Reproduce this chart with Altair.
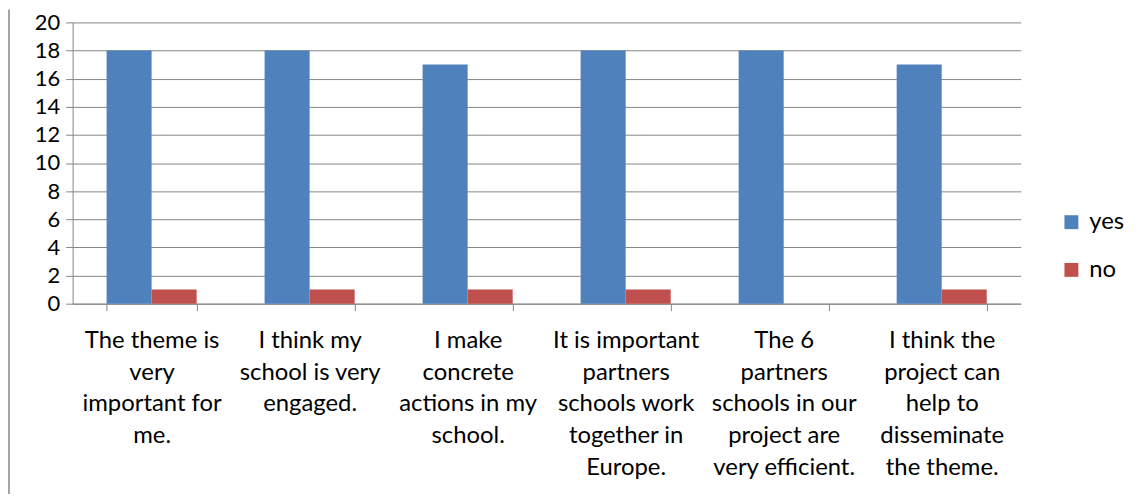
import altair as alt
import pandas as pd

categories = [
    "The theme is|very|important for|me.",
    "I think my|school is very|engaged.",
    "I make|concrete|actions in my|school.",
    "It is important|partners|schools work|together in|Europe.",
    "The 6|partners|schools in our|project are|very efficient.",
    "I think the|project can|help to|disseminate|the theme.",
]
yes_values = [18, 18, 17, 18, 18, 17]
no_values = [1, 1, 1, 1, 0, 1]
series = ["yes", "no"]
colors = ["#4F81BD", "#C0504D"]
y_ticks = list(range(0, 21, 2))

rows = []
for c, y, n in zip(categories, yes_values, no_values):
    rows.append({"category": c, "series": "yes", "value": y})
    rows.append({"category": c, "series": "no", "value": n})
df = pd.DataFrame(rows)

FONT = "Lato"
GRID = "#868686"

bars = alt.Chart(df).mark_bar().encode(
    x=alt.X(
        "category:N",
        sort=categories,
        title=None,
        scale=alt.Scale(paddingInner=0.43, paddingOuter=0.215),
        axis=alt.Axis(
            labelExpr="split(datum.label, '|')",
            labelAngle=0,
            labelFontSize=24,
            labelFont=FONT,
            labelColor="#000000",
            labelLineHeight=32,
            labelBaseline="top",
            labelPadding=18,
            labelLimit=300,
            tickBand="extent",
            tickSize=7,
            tickColor=GRID,
            domainColor=GRID,
            grid=False,
        ),
    ),
    xOffset=alt.XOffset("series:N", sort=series),
    y=alt.Y(
        "value:Q",
        title=None,
        scale=alt.Scale(domain=[0, 20], nice=False),
        axis=alt.Axis(
            values=y_ticks,
            labelFontSize=22,
            labelFont=FONT,
            labelColor="#000000",
            labelPadding=6,
            tickSize=7,
            tickColor=GRID,
            domainColor=GRID,
            gridColor=GRID,
            gridOpacity=1,
        ),
    ),
    color=alt.Color(
        "series:N",
        sort=series,
        scale=alt.Scale(domain=series, range=colors),
        legend=alt.Legend(
            title=None,
            orient="none",
            legendX=993,
            legendY=189,
            symbolType="square",
            symbolSize=196,
            symbolStrokeWidth=0,
            labelFontSize=24,
            labelFont=FONT,
            labelColor="#000000",
            rowPadding=24,
            padding=0,
            labelOffset=6,
        ),
    ),
)

border = alt.Chart(pd.DataFrame({"a": [0]})).mark_rule(color=GRID, strokeWidth=1.5).encode(
    x=alt.value(-64), y=alt.value(-13), y2=alt.value(480)
)

chart = alt.layer(bars, border).properties(
    width=954,
    height=283,
    autosize=alt.AutoSizeParams(type="none"),
    padding={"left": 65, "top": 13, "right": 116, "bottom": 190},
).configure_view(stroke=None)

chart.save("out.html", embed_options={"renderer": "svg", "actions": False})
